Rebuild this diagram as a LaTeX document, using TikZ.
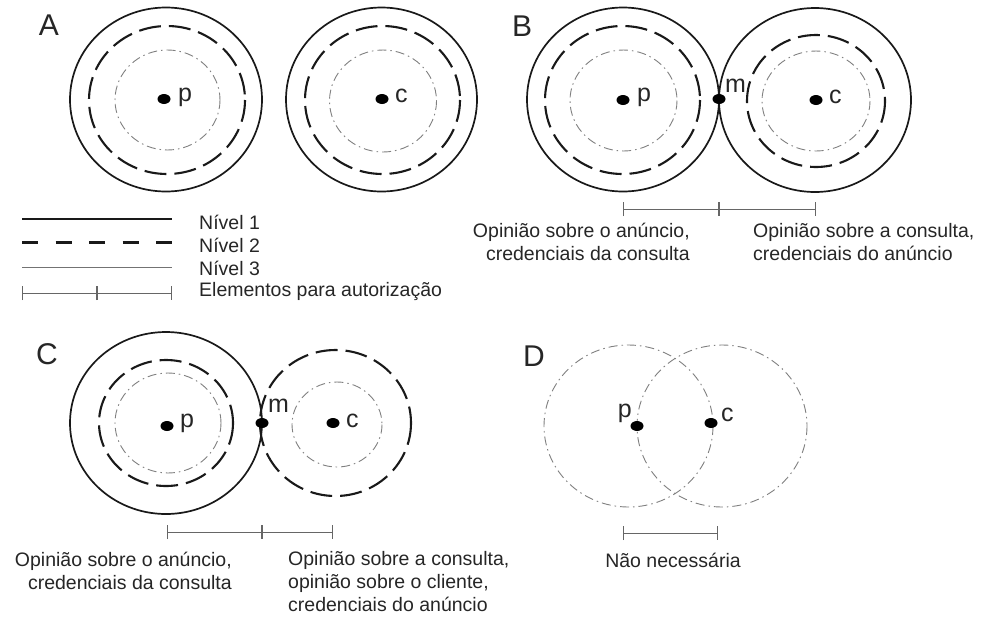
\documentclass[tikz,border=0pt]{standalone}
\usepackage{fontspec}
\setmainfont{Liberation Sans}
\usetikzlibrary{shapes.geometric,arrows.meta}
\begin{document}
\begin{tikzpicture}[x=1pt,y=-1pt,
  lvlone/.style={line width=1.7pt,black!90},
  lvltwo/.style={line width=2.1pt,black!90,dash pattern=on 22pt off 8pt},
  lvlthree/.style={line width=0.9pt,black!50,dash pattern=on 9pt off 4pt on 1.5pt off 4pt},
  dotn/.style={ellipse,fill=black,inner sep=0pt,minimum width=13pt,minimum height=10pt},
  lbl/.style={inner sep=0pt,text=black!85,font=\fontsize{25}{28}\selectfont},
  panel/.style={inner sep=0pt,text=black!85,font=\fontsize{30}{32}\selectfont},
  txt/.style={inner sep=0pt,text=black!85,font=\fontsize{19.5}{23}\selectfont},
  barl/.style={line width=1pt,black!60,{Bar[width=14pt,line width=1pt]}-{Bar[width=14pt,line width=1pt]}},
  midtick/.style={line width=2pt,black!60},
]
\useasboundingbox (0,0) rectangle (982,619);
\fill[white] (0,0) rectangle (982,619);

% ---------- Panel A ----------
\node[panel] (lA) at (49,25) {A};
\draw[lvlone] (166,99.5) ellipse [x radius=96, y radius=92];
\draw[lvltwo] (167,100) ellipse [x radius=78, y radius=74];
\draw[lvlthree] (167.5,100) ellipse [x radius=52.5, y radius=50];
\node[dotn] (pA) at (164,99) {};
\node[lbl,anchor=west] (pAl) at (178,97) {p};

\draw[lvlone] (381.5,99.5) ellipse [x radius=95.5, y radius=92];
\draw[lvltwo] (382.5,100) ellipse [x radius=77.5, y radius=74];
\draw[lvlthree] (383,101) ellipse [x radius=53.5, y radius=51];
\node[dotn] (cA) at (382,99) {};
\node[lbl,anchor=west] (cAl) at (395,96) {c};

% ---------- Legend ----------
\coordinate (g1a) at (22,219); \coordinate (g1b) at (172,219);
\coordinate (g2a) at (22,242); \coordinate (g2b) at (172,242);
\coordinate (g3a) at (22,267); \coordinate (g3b) at (172,267);
\coordinate (g4a) at (22,293); \coordinate (g4m) at (97,293); \coordinate (g4b) at (172,293);
\draw[line width=2.5pt,black!90] (g1a) -- (g1b);
\draw[line width=3pt,black!90,dash pattern=on 16pt off 17.5pt] (g2a) -- (g2b);
\draw[line width=1pt,black!55] (g3a) -- (g3b);
\draw[barl] (g4a) -- (g4b);
\draw[midtick] ([yshift=-7pt]g4m) -- ([yshift=7pt]g4m);
\node[txt,anchor=west] (t1) at (199,222) {Nível 1};
\node[txt,anchor=west] (t2) at (199,245) {Nível 2};
\node[txt,anchor=west] (t3) at (199,268) {Nível 3};
\node[txt,anchor=west] (t4) at (199,291) {Elementos para autorização};

% ---------- Panel B ----------
\node[panel] (lB) at (522,26) {B};
\draw[lvlone] (623,99.5) ellipse [x radius=96, y radius=92];
\draw[lvltwo] (622.5,100) ellipse [x radius=77.5, y radius=74];
\draw[lvlthree] (623.5,100.5) ellipse [x radius=53.5, y radius=50.5];
\node[dotn] (pB) at (623,100) {};
\node[lbl,anchor=west] (pBl) at (637,97) {p};

\draw[lvlone] (815,100) ellipse [x radius=96, y radius=92];
\draw[lvltwo] (816,101) ellipse [x radius=69, y radius=66];
\draw[lvlthree] (816,101) ellipse [x radius=54, y radius=50];
\node[dotn] (cB) at (816,100) {};
\node[lbl,anchor=west] (cBl) at (829,97) {c};

\node[dotn] (mB) at (719,99) {};
\node[lbl,anchor=west] (mBl) at (725,86) {m};

\draw[barl] (pB |- 0,209) -- (cB |- 0,209);
\draw[midtick] (mB |- 0,202) -- (mB |- 0,216);
\node[txt,anchor=east,align=right] (tB1) at (690,242) {Opinião sobre o anúncio,\\credenciais da consulta};
\node[txt,anchor=west,align=left] (tB2) at (753,242) {Opinião sobre a consulta,\\credenciais do anúncio};

% ---------- Panel C ----------
\node[panel] (lC) at (47,354) {C};
\draw[lvlone] (166,423) ellipse [x radius=96, y radius=91];
\draw[lvltwo] (166,423) ellipse [x radius=67, y radius=63];
\draw[lvlthree] (168,423) ellipse [x radius=53, y radius=50];
\node[dotn] (pC) at (167,426) {};
\node[lbl,anchor=west] (pCl) at (180,423) {p};

\draw[lvltwo] (335.5,423) ellipse [x radius=75.5, y radius=73];
\draw[lvlthree] (337,424.5) ellipse [x radius=45, y radius=42.5];
\node[dotn] (cC) at (333,423) {};
\node[lbl,anchor=west] (cCl) at (346,421) {c};

\node[dotn] (mC) at (262,423) {};
\node[lbl,anchor=west] (mCl) at (268,406) {m};

\draw[barl] (pC |- 0,532) -- (cC |- 0,532);
\draw[midtick] (mC |- 0,525) -- (mC |- 0,539);
\node[txt,anchor=east,align=right] (tC1) at (232,571) {Opinião sobre o anúncio,\\credenciais da consulta};
\node[txt,anchor=west,align=left] (tC2) at (288,582) {Opinião sobre a consulta,\\opinião sobre o cliente,\\credenciais do anúncio};

% ---------- Panel D ----------
\node[panel] (lD) at (534,356) {D};
\draw[lvlthree] (628.5,426) ellipse [x radius=84.5, y radius=81];
\draw[lvlthree] (722,426) ellipse [x radius=85, y radius=81];
\node[dotn] (pD) at (637,426) {};
\node[dotn] (cD) at (711,423) {};
\node[lbl,anchor=east] (pDl) at (632,413) {p};
\node[lbl,anchor=west] (cDl) at (721,415) {c};
\draw[barl] (623,533) -- (718,533);
\node[txt] (tD) at (673,560) {Não necessária};
\end{tikzpicture}
\end{document}
